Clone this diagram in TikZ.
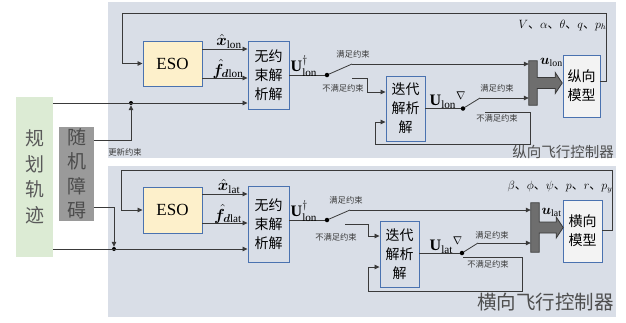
\RequirePackage{fix-cm}
\documentclass[tikz,border=0pt]{standalone}
\usepackage{amsmath}
\usepackage{amssymb}
\usepackage{bm}
\usepackage{fontspec}
\setmainfont{Liberation Serif}
\newfontfamily\cjk{Noto Sans CJK SC}
\usetikzlibrary{arrows.meta}

\definecolor{panelbg}{HTML}{D9DEE7}
\definecolor{esofill}{HTML}{FDF0CB}
\definecolor{boxline}{HTML}{4A72B0}
\definecolor{greenbg}{HTML}{DCEBD4}
\definecolor{obsgray}{HTML}{9A9A9A}
\definecolor{wirec}{HTML}{3A3A3A}
\definecolor{modelfill}{HTML}{F3F3F3}
\definecolor{tfill}{HTML}{6E6E6E}

\tikzset{
  wire/.style={draw=wirec, line width=0.8pt},
  arr/.style={wire, -{Triangle[length=5pt,width=4.5pt]}},
  blk/.style={draw=boxline, line width=0.9pt, inner sep=0pt, align=center,
    font=\cjk\fontsize{14}{19}\selectfont},
  esobox/.style={blk, fill=esofill, font=\fontsize{17}{20}\selectfont},
  swdot/.style={circle, fill=black, inner sep=0pt, minimum size=4.5pt},
  note/.style={font=\cjk\fontsize{8.3}{9}\selectfont, text=wirec, inner sep=0pt},
  sig/.style={font=\fontsize{16}{17}\selectfont, inner sep=0.5pt},
  tbar/.style={inner sep=0pt, minimum width=8pt},
  tshape/.style={fill=tfill, draw=wirec, line width=0.8pt},
  title/.style={font=\cjk, text=wirec!90, inner sep=0pt, anchor=east}
}

\begin{document}
\begin{tikzpicture}[x=1pt,y=-1pt]
  \useasboundingbox (0,0) rectangle (626,322);
  % panels
  \fill[panelbg] (108,2) rectangle (616,158);
  \fill[panelbg] (108,166) rectangle (616,317);

  % trajectory and obstacle
  \node[fill=greenbg, minimum width=37pt, minimum height=160pt, inner sep=0pt, align=center,
    text=black!65, font=\cjk\fontsize{19}{25.5}\selectfont] (gh) at (34.5,177) {规\\划\\轨\\迹};
  \node[fill=obsgray, minimum width=35pt, minimum height=94pt, inner sep=0pt, align=center,
    text=black!70, font=\cjk\fontsize{19}{24.5}\selectfont] (sj) at (76.5,174) {随\\机\\障\\碍};

  % ---------- longitudinal ----------
  \node[esobox, minimum width=59pt, minimum height=45pt] (eso1) at (172.5,63.5) {ESO};
  \node[blk, minimum width=41pt, minimum height=68pt] (jx1) at (268.5,75) {无约\\束解\\析解};
  \node[blk, minimum width=39pt, minimum height=65pt] (dd1) at (405.5,108.5) {迭代\\解析\\解};
  \node[blk, fill=modelfill, minimum width=37pt, minimum height=62pt] (mx1) at (581.5,86) {纵向\\模型};
  \node[tbar, minimum height=44pt] (tb1) at (533,83) {};
  \filldraw[tshape] (tb1.north west) -- (tb1.north east) -- ([yshift=5.5pt]tb1.east) -- ++(18,0)
    -- ++(0,-5) -- ++(7,10.5) -- ++(-7,10.5) -- ++(0,-5) -- ([yshift=-5.5pt]tb1.east)
    -- (tb1.south east) -- (tb1.south west) -- cycle;

  \draw[arr] (mx1.east |- 0,81) -- (606,81) -- (606,13) -- (122,13) -- (122,63.5) -- (eso1.west);
  \draw[arr] (eso1.east |- 0,49) -- (jx1.west |- 0,49);
  \draw[arr] (eso1.east |- 0,78) -- (jx1.west |- 0,78);
  \node[sig, anchor=south] (lx1) at (229,49) {$\hat{\bm{x}}_{\mathrm{lon}}$};
  \node[sig, anchor=south] (lf1) at (228,79) {$\hat{\bm{f}}_{\bm{d}\mathrm{lon}}$};

  \node[swdot, minimum size=4pt] (jd1) at (131,103) {};
  \draw[arr] (gh.east |- jd1) -- (jx1.west |- jd1);
  \draw[arr] (sj.east |- 0,140) -| (jd1.south);
  \node[note] (gx1) at (125,152) {更新约束};

  \node[swdot] (sw1) at (327,75) {};
  \coordinate (ok1) at (352,64);
  \coordinate (no1) at (352,78);
  \draw[wire] (jx1.east |- sw1) -- (sw1);
  \draw[wire] (sw1) -- (ok1);
  \draw[arr] (ok1) -- (ok1 -| tb1.west);
  \draw[arr] (no1) -- (367,78) -- (367,92) -- (dd1.west |- 0,92);
  \node[sig, anchor=south west] (lu1) at (290,77) {$\mathbf{U}^{\dagger}_{\mathrm{lon}}$};
  \node[note] (m1) at (353,54) {满足约束};
  \node[note] (n1) at (343,88) {不满足约束};

  \node[swdot] (sw2) at (463,108.5) {};
  \coordinate (ok2) at (480,98);
  \coordinate (lp1) at (485,112);
  \draw[wire] (dd1.east) -- (sw2);
  \draw[wire] (sw2) -- (ok2);
  \draw[arr] (ok2) -- (ok2 -| tb1.west);
  \draw[arr] (lp1) -- (530,112) -- (530,144) -- (375,144) -- (375,122) -- (dd1.west |- 0,122);
  \node[sig, anchor=south west] (lv1) at (429,109) {$\mathbf{U}_{\mathrm{lon}}{}^{\nabla}$};
  \node[note] (m2) at (497,88) {满足约束};
  \node[note] (n2) at (497,118) {不满足约束};

  \node[sig, anchor=west, font=\fontsize{14}{15}\selectfont] (uu1) at (539.5,62) {$\bm{u}_{\mathrm{lon}}$};
  \node[sig, anchor=east, font=\fontsize{12}{13}\selectfont] (st1) at (607,25)
    {\cjk $V$、$\alpha$、$\theta$、$q$、$p_h$};
  \node[title, font=\cjk\fontsize{14.5}{15}\selectfont] (tt1) at (614,152) {纵向飞行控制器};

  % ---------- lateral ----------
  \node[esobox, minimum width=59pt, minimum height=46pt] (eso2) at (172.5,210) {ESO};
  \node[blk, minimum width=41pt, minimum height=76pt] (jx2) at (268.5,224) {无约\\束解\\析解};
  \node[blk, minimum width=39pt, minimum height=66pt] (dd2) at (399.5,254) {迭代\\解析\\解};
  \node[blk, fill=modelfill, minimum width=39pt, minimum height=62pt] (mx2) at (582.5,231) {横向\\模型};
  \node[tbar, minimum height=49pt] (tb2) at (535,227.5) {};
  \filldraw[tshape] (tb2.north west) -- (tb2.north east) -- ([yshift=5.5pt]tb2.east) -- ++(17,0)
    -- ++(0,-5) -- ++(7,10.5) -- ++(-7,10.5) -- ++(0,-5) -- ([yshift=-5.5pt]tb2.east)
    -- (tb2.south east) -- (tb2.south west) -- cycle;

  \draw[arr] (mx2.east |- 0,230) -- (612,230) -- (612,170) -- (121,170) -- (121,210) -- (eso2.west);
  \draw[arr] (eso2.east |- 0,194) -- (jx2.west |- 0,194);
  \draw[arr] (eso2.east |- 0,223) -- (jx2.west |- 0,223);
  \node[sig, anchor=south] (lx2) at (229,194) {$\hat{\bm{x}}_{\mathrm{lat}}$};
  \node[sig, anchor=south] (lf2) at (228,224) {$\hat{\bm{f}}_{\bm{d}\mathrm{lat}}$};

  \node[swdot, minimum size=4pt] (jd2) at (114,249) {};
  \draw[arr] (gh.east |- jd2) -- (jx2.west |- jd2);
  \draw[arr] (sj.east |- 0,207) -| (jd2.north);

  \node[swdot] (sw3) at (327,220) {};
  \coordinate (ok3) at (350,210);
  \coordinate (no3) at (345,224);
  \draw[wire] (jx2.east |- sw3) -- (sw3);
  \draw[wire] (sw3) -- (ok3);
  \draw[arr] (ok3) -- (ok3 -| tb2.west);
  \draw[arr] (no3) -- (368,224) -- (368,236) -- (dd2.west |- 0,236);
  \node[sig, anchor=south west] (lu2) at (290,222) {$\mathbf{U}^{\dagger}_{\mathrm{lon}}$};
  \node[note] (m3) at (346,200) {满足约束};
  \node[note] (n3) at (336,237) {不满足约束};

  \node[swdot] (sw4) at (462,253) {};
  \coordinate (ok4) at (478,243);
  \coordinate (lp2) at (463,257);
  \draw[wire] (dd2.east |- sw4) -- (sw4);
  \draw[wire] (sw4) -- (ok4);
  \draw[arr] (ok4) -- (ok4 -| tb2.west);
  \draw[arr] (lp2) -- (522,257) -- (522,291) -- (368,291) -- (368,267) -- (dd2.west |- 0,267);
  \node[sig, anchor=south west] (lv2) at (429,254) {$\mathbf{U}_{\mathrm{lat}}{}^{\nabla}$};
  \node[note] (m4) at (492,235) {满足约束};
  \node[note] (n4) at (488,264) {不满足约束};

  \node[sig, anchor=west, font=\fontsize{14}{15}\selectfont] (uu2) at (541,212) {$\bm{u}_{\mathrm{lat}}$};
  \node[sig, anchor=east, font=\fontsize{12}{13}\selectfont] (st2) at (613,187)
    {\cjk $\beta$、$\phi$、$\psi$、$p$、$r$、$p_y$};
  \node[title, font=\cjk\fontsize{19.5}{20}\selectfont] (tt2) at (614,302) {横向飞行控制器};
\end{tikzpicture}
\end{document}
